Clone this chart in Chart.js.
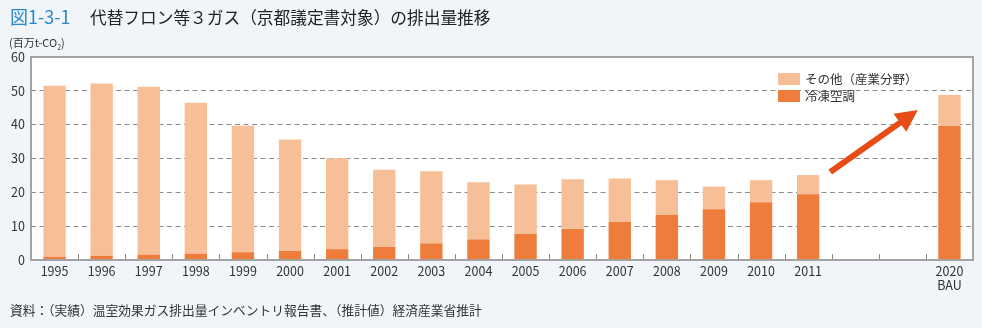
<!DOCTYPE html>
<html lang="ja">
<head>
<meta charset="utf-8">
<title>代替フロン等３ガスの排出量推移</title>
<script src="https://cdn.jsdelivr.net/npm/chart.js@4/dist/chart.umd.min.js"></script>
<style>
  html, body { margin: 0; padding: 0; background: #f1f5fa; }
  body { width: 982px; height: 328px; position: relative; overflow: hidden;
         font-family: "Noto Sans CJK JP", "Noto Sans", sans-serif; color: #333; }
  #wrap { position: absolute; left: 0; top: 0; width: 982px; height: 328px; }
  .title { position: absolute; left: 10px; top: 3px; font-size: 16.7px; color: #222; white-space: nowrap; }
  .title .no { color: #2588c9; font-size: 18px; display: inline-block; width: 80px; }
  .unit { position: absolute; left: 9px; top: 34px; font-size: 11px; color: #333; }
  .unit sub { font-size: 7px; }
  .note { position: absolute; left: 10px; top: 300px; font-size: 12.75px; color: #333; white-space: nowrap; }
  .legend { position: absolute; left: 778px; top: 70px; font-size: 12.5px; color: #333; }
  .legend div { height: 17px; line-height: 17px; white-space: nowrap; }
  .legend span { display: inline-block; width: 22px; height: 12px; vertical-align: -1px; margin-right: 5px; }
</style>
</head>
<body>
<div id="wrap"><canvas id="chart1" width="982" height="328"></canvas></div>
<div class="title"><span class="no">図1-3-1</span>代替フロン等３ガス（京都議定書対象）の排出量推移</div>
<div class="unit">(百万t-CO<sub>2</sub>)</div>
<div class="legend">
  <div><span style="background:#f7bf97"></span>その他（産業分野）</div>
  <div><span style="background:#ee7d3b"></span>冷凍空調</div>
</div>
<div class="note">資料：（実績）温室効果ガス排出量インベントリ報告書、（推計値）経済産業省推計</div>

<script>
// 年（2012〜2019は空欄）
var years = ['1995','1996','1997','1998','1999','2000','2001','2002','2003','2004',
             '2005','2006','2007','2008','2009','2010','2011','','',['2020','BAU']];

// 冷凍空調
var reitouKuchou = [0.9, 1.2, 1.6, 1.9, 2.3, 2.7, 3.2, 3.9, 4.9, 6.1,
                    7.7, 9.2, 11.3, 13.4, 15.0, 17.1, 19.4, null, null, 39.7];

// 合計（その他＝合計−冷凍空調）
var total = [51.5, 52.2, 51.2, 46.5, 39.7, 35.6, 30.1, 26.7, 26.2, 23.0,
             22.3, 23.9, 24.1, 23.6, 21.7, 23.6, 25.1, null, null, 48.8];

var sonota = total.map(function (t, i) {
  return t === null ? null : +(t - reitouKuchou[i]).toFixed(1);
});

var yTicks = [0, 10, 20, 30, 40, 50, 60];

// 矢印（データ座標：カテゴリ位置, 値）
var arrowFrom = [16.47, 26.0];
var arrowTo = [18.33, 44.3];

var frameColor = '#a3a3a3';

// 枠線・目盛り・矢印
var extras = {
  id: 'extras',
  afterDatasetsDraw: function (chart) {
    var ctx = chart.ctx, a = chart.chartArea;
    var xs = chart.scales.x, ys = chart.scales.y;
    ctx.save();
    // カテゴリ境界の目盛り
    ctx.strokeStyle = '#8a8a8a';
    ctx.lineWidth = 1;
    for (var i = 0; i < years.length - 1; i++) {
      var bx = Math.round((xs.getPixelForTick(i) + xs.getPixelForTick(i + 1)) / 2) + 0.5;
      ctx.beginPath();
      ctx.moveTo(bx, a.bottom);
      ctx.lineTo(bx, a.bottom - 6);
      ctx.stroke();
    }
    // 枠
    ctx.strokeStyle = frameColor;
    ctx.lineWidth = 2;
    ctx.strokeRect(a.left, a.top, a.right - a.left, a.bottom - a.top);

    // 矢印
    var x1 = xs.getPixelForValue(arrowFrom[0]), y1 = ys.getPixelForValue(arrowFrom[1]);
    var x2 = xs.getPixelForValue(arrowTo[0]), y2 = ys.getPixelForValue(arrowTo[1]);
    var ang = Math.atan2(y2 - y1, x2 - x1);
    var headLen = 22, headW = 11;
    var bxh = x2 - headLen * Math.cos(ang), byh = y2 - headLen * Math.sin(ang);
    ctx.strokeStyle = '#e84c16';
    ctx.fillStyle = '#e84c16';
    ctx.lineWidth = 6;
    ctx.lineCap = 'butt';
    ctx.beginPath();
    ctx.moveTo(x1, y1);
    ctx.lineTo(bxh + 2 * Math.cos(ang), byh + 2 * Math.sin(ang));
    ctx.stroke();
    ctx.beginPath();
    ctx.moveTo(x2, y2);
    ctx.lineTo(bxh + headW * Math.sin(ang), byh - headW * Math.cos(ang));
    ctx.lineTo(bxh - headW * Math.sin(ang), byh + headW * Math.cos(ang));
    ctx.closePath();
    ctx.fill();
    ctx.restore();
  }
};

// 描画領域の背景を白に
var plotBg = {
  id: 'plotBg',
  beforeDraw: function (chart) {
    var a = chart.chartArea, ctx = chart.ctx;
    ctx.save();
    ctx.fillStyle = '#ffffff';
    ctx.fillRect(a.left, a.top, a.right - a.left, a.bottom - a.top);
    ctx.restore();
  }
};

var ctx = document.getElementById('chart1').getContext('2d');
var chart = new Chart(ctx, {
  type: 'bar',
  data: {
    labels: years,
    datasets: [
      {
        label: '冷凍空調',
        data: reitouKuchou,
        backgroundColor: '#ee7d3b',
        borderWidth: 0
      },
      {
        label: 'その他（産業分野）',
        data: sonota,
        backgroundColor: '#f7bf97',
        borderWidth: 0
      }
    ]
  },
  options: {
    responsive: false,
    devicePixelRatio: 1,
    animation: false,
    layout: { padding: { left: 0, right: 9, top: 57, bottom: 28 } },
    datasets: { bar: { categoryPercentage: 1, barPercentage: 0.475 } },
    plugins: {
      legend: { display: false },
      tooltip: { enabled: false }
    },
    scales: {
      x: {
        stacked: true,
        grid: { display: false, drawTicks: false },
        border: { display: false },
        ticks: {
          color: '#333',
          padding: 4,
          maxRotation: 0,
          autoSkip: false,
          font: { family: '"Noto Sans CJK JP", sans-serif', size: 12.5, lineHeight: 1.15 }
        },
        afterFit: function (scale) { scale.height = 40; }
      },
      y: {
        stacked: true,
        min: 0,
        max: 60,
        afterBuildTicks: function (scale) {
          scale.ticks = yTicks.map(function (v) { return { value: v }; });
        },
        grid: {
          drawTicks: false,
          color: function (c) {
            return (c.tick && (c.tick.value === 0 || c.tick.value === 60)) ? 'rgba(0,0,0,0)' : '#8c8c8c';
          },
          lineWidth: 1
        },
        border: { display: false, dash: [5, 3.5] },
        ticks: {
          color: '#333',
          padding: 6,
          font: { family: '"Noto Sans CJK JP", sans-serif', size: 12.5 }
        },
        afterFit: function (scale) { scale.width = 31; }
      }
    }
  },
  plugins: [plotBg, extras]
});
</script>
</body>
</html>
